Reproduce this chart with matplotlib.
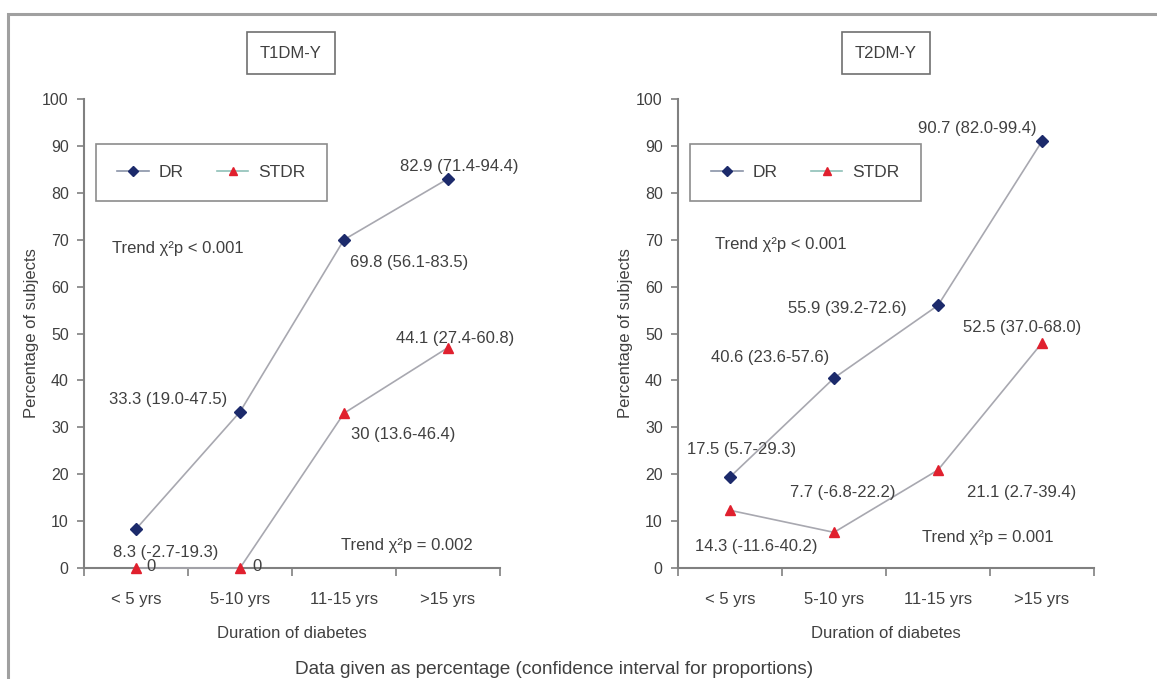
import matplotlib.pyplot as plt
from matplotlib.lines import Line2D
from matplotlib.patches import Rectangle

plt.rcParams["font.family"] = ["Liberation Sans", "DejaVu Sans"]

categories = ["< 5 yrs", "5-10 yrs", "11-15 yrs", ">15 yrs"]

# plotted positions
t1_dr = [8.3, 33.3, 70.0, 83.0]
t1_stdr = [0.0, 0.0, 33.0, 47.0]
t2_dr = [19.4, 40.5, 56.0, 91.0]
t2_stdr = [12.3, 7.6, 20.9, 48.0]

# annotation texts
t1_dr_labels = ["8.3 (-2.7-19.3)", "33.3 (19.0-47.5)", "69.8 (56.1-83.5)", "82.9 (71.4-94.4)"]
t1_stdr_labels = ["0", "0", "30 (13.6-46.4)", "44.1 (27.4-60.8)"]
t2_dr_labels = ["17.5 (5.7-29.3)", "40.6 (23.6-57.6)", "55.9 (39.2-72.6)", "90.7 (82.0-99.4)"]
t2_stdr_labels = ["14.3 (-11.6-40.2)", "7.7 (-6.8-22.2)", "21.1 (2.7-39.4)", "52.5 (37.0-68.0)"]

TEXT = "#404040"
AXIS = "#808080"
LINE = "#a8a8b0"
NAVY = "#1c2a6b"
RED = "#e0202e"
FS = 12

fig = plt.figure(figsize=(11.57, 6.79), dpi=100)
W, H = 1157, 679

# outer frame
fig.patches.append(Rectangle((8 / W, -0.05), 1.2, (679 - 14) / H + 0.05,
                             transform=fig.transFigure, fill=False,
                             edgecolor="#a0a0a0", linewidth=2.2))


def make_axes(left_px, title, title_box):
    ax = fig.add_axes([left_px / W, (H - 568) / H, 416 / W, 469 / H])
    ax.set_xlim(-0.5, 3.5)
    ax.set_ylim(0, 100)
    ax.set_yticks(range(0, 101, 10))
    ax.set_xticks(range(len(categories)))
    ax.set_xticklabels(categories)
    ax.set_xticks([-0.5, 0.5, 1.5, 2.5, 3.5], minor=True)
    ax.tick_params(axis="x", which="major", length=0, pad=17, labelsize=FS, labelcolor=TEXT)
    ax.tick_params(axis="x", which="minor", length=6, color=AXIS, width=1.2)
    ax.tick_params(axis="y", length=5, color=AXIS, width=1.2, labelsize=FS - 0.5, labelcolor=TEXT, pad=6)
    for side in ["top", "right"]:
        ax.spines[side].set_visible(False)
    for side in ["left", "bottom"]:
        ax.spines[side].set_color(AXIS)
        ax.spines[side].set_linewidth(1.5)
    ax.set_ylabel("Percentage of subjects", fontsize=FS, color=TEXT, labelpad=2)
    ax.set_xlabel("Duration of diabetes", fontsize=FS, color=TEXT, labelpad=14)
    ax.patch.set_alpha(0)
    fig.text(title_box / W, (H - 53) / H, title, ha="center", va="center",
             fontsize=FS, color=TEXT,
             bbox=dict(boxstyle="square,pad=0.8", facecolor="white", edgecolor="#707070", linewidth=1.2))
    return ax


def plot_series(ax, dr, stdr):
    x = range(len(categories))
    ax.plot(x, dr, color=LINE, linewidth=1.2, marker="D", markersize=6,
            markerfacecolor=NAVY, markeredgecolor=NAVY, clip_on=False, zorder=3)
    ax.plot(x, stdr, color=LINE, linewidth=1.2, marker="^", markersize=7,
            markerfacecolor=RED, markeredgecolor=RED, clip_on=False, zorder=3)
    handles = [
        Line2D([], [], color="#8a94a8", linewidth=1.2, marker="D", markersize=5,
               markerfacecolor=NAVY, markeredgecolor=NAVY),
        Line2D([], [], color="#8fc0b8", linewidth=1.2, marker="^", markersize=6,
               markerfacecolor=RED, markeredgecolor=RED),
    ]
    leg = ax.legend(handles, ["DR", "STDR"], ncol=2, loc="upper left",
                    bbox_to_anchor=(0.03, 0.904), fontsize=FS + 0.5,
                    frameon=True, fancybox=False, borderpad=1.2,
                    columnspacing=1.9, handlelength=1.8, handletextpad=0.6,
                    borderaxespad=0)
    leg.get_frame().set_edgecolor("#707070")
    leg.get_frame().set_linewidth(1.2)
    for t in leg.get_texts():
        t.set_color(TEXT)


def annotate(ax, items):
    for text, x, y in items:
        ax.text(x, y, text, ha="center", va="center", fontsize=FS, color=TEXT, zorder=4)


# T1DM-Y
ax1 = make_axes(84, "T1DM-Y", 291)
plot_series(ax1, t1_dr, t1_stdr)
annotate(ax1, [
    (t1_dr_labels[0], 0.29, 3.3),
    (t1_dr_labels[1], 0.31, 36.0),
    (t1_dr_labels[2], 2.63, 65.2),
    (t1_dr_labels[3], 3.11, 85.7),
    (t1_stdr_labels[0], 0.14, 0.3),
    (t1_stdr_labels[1], 1.16, 0.3),
    (t1_stdr_labels[2], 2.57, 28.4),
    (t1_stdr_labels[3], 3.07, 49.0),
    ("Trend χ²p < 0.001", 0.40, 68.2),
    ("Trend χ²p = 0.002", 2.60, 4.8),
])

# T2DM-Y
ax2 = make_axes(678, "T2DM-Y", 886)
plot_series(ax2, t2_dr, t2_stdr)
annotate(ax2, [
    (t2_dr_labels[0], 0.11, 25.2),
    (t2_dr_labels[1], 0.39, 44.8),
    (t2_dr_labels[2], 1.13, 55.4),
    (t2_dr_labels[3], 2.38, 93.8),
    (t2_stdr_labels[0], 0.25, 4.5),
    (t2_stdr_labels[1], 1.08, 16.2),
    (t2_stdr_labels[2], 2.80, 16.2),
    (t2_stdr_labels[3], 2.81, 51.2),
    ("Trend χ²p < 0.001", 0.49, 68.9),
    ("Trend χ²p = 0.001", 2.48, 6.4),
])

fig.text(554 / W, (H - 670) / H, "Data given as percentage (confidence interval for proportions)",
         ha="center", va="center", fontsize=13.7, color=TEXT)

fig.savefig("out.png", dpi=100)
